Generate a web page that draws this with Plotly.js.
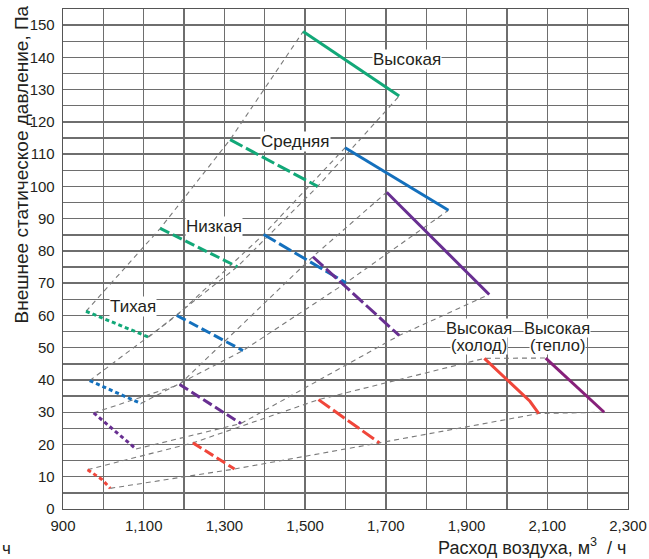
<!DOCTYPE html>
<html>
<head>
<meta charset="utf-8">
<script src="https://cdn.plot.ly/plotly-3.0.1.min.js"></script>
<style>html,body{margin:0;padding:0;background:#fff;}#chart{width:649px;height:559px;}</style>
</head>
<body>
<div id="chart"></div>
<script>
// ---- data ----
// Green group
const greenHighX = [1495, 1733], greenHighY = [148, 128];
const greenMedX = [1314, 1531], greenMedY = [114.5, 100];
const greenLowX = [1141, 1332], greenLowY = [87, 75.1];
const greenQuietX = [957, 1112], greenQuietY = [61.3, 53.3];
// Blue group
const blueHighX = [1599, 1855], blueHighY = [112, 92.6];
const blueMedX = [1397, 1601], blueMedY = [85.1, 70.1];
const blueLowX = [1182, 1346], blueLowY = [60, 49.1];
const blueQuietX = [966, 1093], blueQuietY = [39.8, 32.7];
// Purple group
const purpleHighX = [1702, 1956], purpleHighY = [98.2, 66.5];
const purpleMedX = [1519, 1733], purpleMedY = [78.2, 53.8];
const purpleLowX = [1189, 1341], purpleLowY = [38.6, 26.5];
const purpleQuietX = [976, 1081], purpleQuietY = [29.8, 18.6];
// Red group (cooling) and heating
const redHighX = [1944, 2057, 2079], redHighY = [46.7, 33.4, 29.6];
const redMedX = [1533, 1684], redMedY = [33.9, 20.5];
const redLowX = [1222, 1325], redLowY = [20.5, 12.4];
const redQuietX = [961, 997, 1017], redQuietY = [12.2, 9.1, 6.4];
const heatHighX = [2096, 2241], heatHighY = [46.8, 30];

// ticks
const xTickVals = [900, 1100, 1300, 1500, 1700, 1900, 2100, 2300];
const xTickText = ['900', '1,100', '1,300', '1,500', '1,700', '1,900', '2,100', '2,300'];
const xMinorVals = [1000, 1200, 1400, 1600, 1800, 2000, 2200];
const yTickVals = [0, 10, 20, 30, 40, 50, 60, 70, 80, 90, 100, 110, 120, 130, 140, 150];
const yTickText = ['0', '10', '20', '30', '40', '50', '60', '70', '80', '90', '100', '110', '120', '130', '140', '150'];
const yMinorVals = [5, 15, 25, 35, 45, 55, 65, 75, 85, 95, 105, 115, 125, 135, 145, 155];

// labels
const labelText = ['Высокая', 'Средняя', 'Низкая', 'Тихая'];
const labelX = [1752, 1477, 1273, 1074];
const labelY = [139.4, 113.8, 87.7, 62.7];
const modeLabelTop = ['Высокая', 'Высокая'];
const modeLabelBottom = ['(холод)', '(тепло)'];
const modeLabelX = [1932, 2125];
const modeLabelYTop = 56.0;
const modeLabelYBottom = 50.9;

// ---- styles ----
const C = {green:'#12a878', blue:'#1470bd', purple:'#682f91', red:'#f0463a', heat:'#87207a'};
const DASH = {high:'solid', med:'14px,4px', low:'10px,4px', quiet:'4px,3px'};
const W = 3;

const groups = [
  {color:C.green, lines:[[greenQuietX,greenQuietY,'quiet'],[greenLowX,greenLowY,'low'],[greenMedX,greenMedY,'med'],[greenHighX,greenHighY,'high']]},
  {color:C.blue, lines:[[blueQuietX,blueQuietY,'quiet'],[blueLowX,blueLowY,'low'],[blueMedX,blueMedY,'med'],[blueHighX,blueHighY,'high']]},
  {color:C.purple, lines:[[purpleQuietX,purpleQuietY,'quiet'],[purpleLowX,purpleLowY,'low'],[purpleMedX,purpleMedY,'med'],[purpleHighX,purpleHighY,'high']]},
  {color:C.red, lines:[[redQuietX,redQuietY,'quiet'],[redLowX,redLowY,'low'],[redMedX,redMedY,'med'],[redHighX,redHighY,'high'],[heatHighX,heatHighY,'high',C.heat]]}
];

const traces = [];
// connectors (through start points and through end points of each group)
groups.forEach(g => {
  const sx = g.lines.map(l => l[0][0]), sy = g.lines.map(l => l[1][0]);
  const ex = g.lines.map(l => l[0][l[0].length-1]), ey = g.lines.map(l => l[1][l[1].length-1]);
  [[sx,sy],[ex,ey]].forEach(p => traces.push({x:p[0], y:p[1], mode:'lines', hoverinfo:'skip',
    line:{color:'#7a7a7a', width:1.1, dash:'5px,4px'}}));
});
// curves
groups.forEach(g => {
  g.lines.forEach(l => traces.push({x:l[0], y:l[1], mode:'lines',
    line:{color:l[3] || g.color, width:W, dash:DASH[l[2]]}}));
});

const annFont = {family:'Liberation Sans, Arial, sans-serif', size:17, color:'#231f20'};
const modeFont = {family:'Liberation Sans, Arial, sans-serif', size:16.5, color:'#231f20'};
const annotations = labelText.map((t,i) => ({x:labelX[i], y:labelY[i], xref:'x', yref:'y', text:t,
  showarrow:false, bgcolor:'#ffffff', borderpad:0, font:annFont}));
modeLabelX.forEach((x,i) => {
  annotations.push({x:x, y:modeLabelYTop, xref:'x', yref:'y', text:modeLabelTop[i], showarrow:false,
    bgcolor:'#fff', borderpad:0, font:modeFont});
  annotations.push({x:x, y:modeLabelYBottom, xref:'x', yref:'y', text:modeLabelBottom[i], showarrow:false,
    bgcolor:'#fff', borderpad:0, font:modeFont});
});
annotations.push(
  {x:0.999, y:-0.099, xref:'paper', yref:'paper', xanchor:'right', yanchor:'bottom',
   text:'Расход воздуха, м<sup>3</sup>  / ч', showarrow:false, borderpad:0,
   font:{family:'Liberation Sans, Arial, sans-serif', size:18, color:'#231f20'}},
  {x:-0.0735, y:0.69, xref:'paper', yref:'paper', xanchor:'center', yanchor:'middle', textangle:-90,
   text:'Внешнее статическое давление, Па', showarrow:false,
   font:{family:'Liberation Sans, Arial, sans-serif', size:19, color:'#231f20'}},
  {x:-0.10, y:-0.078, xref:'paper', yref:'paper', xanchor:'center', yanchor:'middle',
   text:'ч', showarrow:false, font:annFont}
);

const tickFont = {family:'Liberation Sans Narrow, Arial Narrow, Liberation Sans, sans-serif', size:15, color:'#231f20'};
const gridCol = '#6e6e6e';
const layout = {
  width:649, height:559,
  margin:{l:63, r:21, t:9, b:50},
  paper_bgcolor:'#fff', plot_bgcolor:'#fff',
  showlegend:false,
  xaxis:{range:[900,2300], tickmode:'array', tickvals:xTickVals, ticktext:xTickText,
    minor:{tickmode:'array', tickvals:xMinorVals, showgrid:true, gridcolor:gridCol, gridwidth:1.4, ticks:''},
    showgrid:true, gridcolor:gridCol, gridwidth:1.4, zeroline:false,
    showline:true, linecolor:'#555', linewidth:1.3, mirror:true, ticks:'',
    tickfont:tickFont, ticklabelstandoff:3},
  yaxis:{range:[0,155], tickmode:'array', tickvals:yTickVals, ticktext:yTickText,
    minor:{tickmode:'array', tickvals:yMinorVals, showgrid:true, gridcolor:gridCol, gridwidth:1.4, ticks:''},
    showgrid:true, gridcolor:gridCol, gridwidth:1.4, zeroline:false,
    showline:true, linecolor:'#555', linewidth:1.3, mirror:true, ticks:'',
    tickfont:tickFont, ticklabelstandoff:4},
  annotations:annotations
};
Plotly.newPlot('chart', traces, layout, {displayModeBar:false, staticPlot:true});
</script>
</body>
</html>
